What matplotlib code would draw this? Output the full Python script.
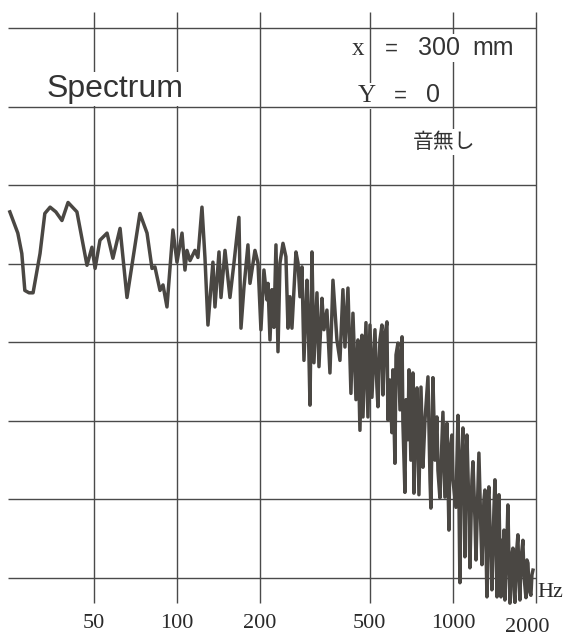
import matplotlib
matplotlib.use('Agg')
import matplotlib.pyplot as plt

# spectrum: frequency (Hz) and level (dB, 10 dB per grid division)
freq_low = [24.8, 26.5, 27.4, 28.1, 29.1, 30.1, 31.9, 33.2, 34.7, 36.4,
            38.3, 40.3, 43.4, 47.2, 49.2, 50.5, 52.6, 55.8, 58.6, 62.2,
            65.9, 73.4, 77.9, 81.2, 83.2, 86.8, 89.0, 92.0, 96.7, 100.0,
            104.3, 106.9, 108.7, 111.5, 116.2, 119.1, 123.2, 126.3, 129.5, 135.0,
            137.3, 142.0, 144.4, 149.3, 155.6, 160.9, 167.7, 170.6, 174.9, 180.8,
            183.9]
level_low = [46.6, 43.9, 41.3, 36.6, 36.3, 36.3, 41.3, 46.4, 47.2, 46.6,
             45.5, 47.8, 46.6, 39.8, 42.1, 39.4, 43.0, 43.9, 40.7, 44.5,
             35.7, 46.4, 43.9, 39.4, 39.6, 36.6, 37.3, 34.5, 44.3, 40.2,
             43.9, 39.2, 41.7, 40.4, 41.7, 40.8, 47.2, 40.8, 32.2, 40.2,
             34.5, 41.5, 35.7, 41.7, 35.7, 40.1, 45.9, 31.8, 37.0, 42.4,
             37.5]

freq_a = [191.7, 196.6, 201.5, 206.6, 211.9, 213.7, 217.3, 220.9, 224.6, 228.4,
          232.3, 236.2, 242.2, 248.2, 252.5, 256.7, 261.0, 269.9, 274.5, 279.1,
          283.8, 288.5, 295.9, 298.4]
level_a = [41.7, 40.1, 31.6, 39.2, 35.4, 37.5, 30.3, 36.7, 31.9, 42.4,
           28.8, 40.1, 42.6, 40.9, 31.8, 35.8, 31.8, 41.5, 40.1, 35.8,
           39.6, 27.7, 37.9, 34.1]

freq_b = [303.4, 308.4, 313.6, 321.6, 327.0, 335.3, 340.9, 349.5, 358.4, 367.5,
          379.9, 389.6, 399.4, 406.2, 416.5, 427.0, 434.2, 445.3, 452.7, 460.3,
          468.1, 472.1, 484.0, 492.0, 500.4, 508.8]
level_b = [22.0, 41.5, 27.4, 36.3, 26.9, 35.6, 31.6, 34.1, 26.1, 37.9,
           30.3, 27.7, 36.7, 29.4, 36.9, 23.5, 33.7, 22.7, 30.3, 18.8,
           30.9, 20.5, 32.5, 20.5, 32.2, 23.0]

freq_c = [521.7, 530.4, 535, 543.9, 553, 557.7, 567.1, 576.6, 581.4, 591.2,
          601, 606.2, 616.4, 622, 632.0, 643, 654, 658.9, 670.0, 676,
          687, 693, 704, 716.3, 722, 734, 741, 753, 766, 778.7,
          792, 812, 826, 832, 846.3, 861, 875, 882.5, 897, 920,
          935, 951.3, 967.2, 975, 991.7, 1000]
level_c = [31.6, 24.3, 21.8, 30.3, 32.2, 23.3, 30.9, 32.6, 20.1, 25.2,
           18.5, 26.5, 14.6, 28.4, 29.9, 21.4, 30.7, 19.7, 10.9, 22.7,
           17.6, 26.5, 15.0, 26.1, 10.8, 20.1, 24.2, 10.6, 24.3, 14.1,
           20.1, 25.6, 12.5, 8.9, 25.5, 15.0, 20.5, 13.7, 10.2, 21.1,
           10.3, 19.7, 6.1, 16.3, 18.2, 12.5]

freq_d = [1025, 1043, 1060, 1069, 1087, 1105, 1115, 1124, 1143, 1152,
          1172, 1182, 1202, 1212, 1232, 1242, 1263, 1274, 1295, 1306,
          1317, 1328, 1339, 1350, 1373, 1384, 1408, 1420, 1432, 1444,
          1456, 1468, 1481, 1493, 1505, 1518, 1531, 1543, 1570, 1582,
          1596, 1609, 1623, 1650, 1663, 1678, 1692, 1720, 1734, 1749,
          1764, 1793, 1808, 1839, 1854, 1870, 1886, 1917, 1933, 1950]
level_d = [9.0, 20.7, -0.6, 13.7, 19.1, 2.7, 13.7, 18.2, 8.7, 1.3,
           12.5, 14.8, 7.4, 2.3, 11.2, 15.9, 6.1, 1.7, 9.9, 11.2,
           4.8, -2.4, 9.9, 11.6, 2.3, -1.5, 8.7, 12.5, 4.8, -2.4,
           7.4, 10.6, 2.3, -2.4, 4.8, 1.9, 6.1, -2.8, 4.8, 9.3,
           2.3, -3.2, 2.3, 3.8, -1.5, -3.1, 2.3, 5.5, -0.3, -2.8,
           2.3, 4.8, 0.4, -2.5, 2.3, 1.9, -1.5, -2.2, 0.4, 1.0]

freq = freq_low + freq_a + freq_b + freq_c + freq_d
level = level_low + level_a + level_b + level_c + level_d

tick_freqs = [50, 100, 200, 500, 1000, 2000]
tick_labels = ['50', '100', '200', '500', '1000', '2000']
grid_levels = [0, 10, 20, 30, 40, 50, 60, 70]

grid_col = '#4a4a4a'
line_col = '#4a4743'
serif = ['Liberation Serif', 'DejaVu Serif']
sans = ['Liberation Sans', 'DejaVu Sans']

fig = plt.figure(figsize=(5.71, 6.4), dpi=100)
ax = fig.add_axes([8.4 / 571, 37 / 640, 527.6 / 571, 591 / 640])
ax.set_xscale('log')
ax.set_xlim(24.5, 2000)
ax.set_ylim(-3.18, 72.04)
ax.axis('off')

ax.vlines(tick_freqs, -3.18, 72.04, colors=grid_col, lw=1.0, zorder=1, clip_on=False)
ax.hlines(grid_levels, 24.5, 2000, colors=grid_col, lw=1.0, zorder=2.5, clip_on=False)

ax.plot(freq, level, color=line_col, lw=2.5, zorder=3, clip_on=False)

# tick labels under the grid
offsets = {'2000': (-6, -3)}
for f, lab in zip(tick_freqs, tick_labels):
    dx, dy = offsets.get(lab, (0, 0))
    ax.annotate(lab, (f, -5.73), xytext=(dx, dy), textcoords='offset points',
                ha='center', va='center', fontsize=16, family=serif,
                color='#2a2a2a', annotation_clip=False)
ax.annotate('Hz', (2000, -1.78), xytext=(1, 0), textcoords='offset points',
            ha='left', va='center', fontsize=16, family=serif,
            color='#2a2a2a', annotation_clip=False)

box = dict(facecolor='white', edgecolor='none', pad=1.5)
tc = '#333333'
ax.text(0.0732, 0.856, 'Spectrum', transform=ax.transAxes, fontsize=23,
        family=sans, color=tc, va='baseline', bbox=box, zorder=2)
ax.text(0.651, 0.927, 'x', transform=ax.transAxes, fontsize=18,
        family=serif, color=tc, va='baseline', bbox=box, zorder=2)
ax.text(0.7137, 0.927, '=', transform=ax.transAxes, fontsize=16,
        family=sans, color=tc, va='baseline', zorder=2)
ax.text(0.7763, 0.927, '300', transform=ax.transAxes, fontsize=18,
        family=sans, color=tc, va='baseline', bbox=box, zorder=2)
ax.text(0.879, 0.927, 'mm', transform=ax.transAxes, fontsize=18,
        family=sans, color=tc, va='baseline', zorder=2)
ax.text(0.6626, 0.8477, 'Y', transform=ax.transAxes, fontsize=18,
        family=serif, color=tc, va='baseline', bbox=box, zorder=2)
ax.text(0.7308, 0.8477, '=', transform=ax.transAxes, fontsize=16,
        family=sans, color=tc, va='baseline', zorder=2)
ax.text(0.7915, 0.8477, '0', transform=ax.transAxes, fontsize=18,
        family=sans, color=tc, va='baseline', zorder=2)
ax.text(0.7668, 0.780, '音無し', transform=ax.transAxes, fontsize=15,
        family=['Noto Sans CJK JP', 'DejaVu Sans'], color=tc, va='center',
        bbox=box, zorder=2)

fig.savefig('out.png', dpi=100, facecolor='white')
